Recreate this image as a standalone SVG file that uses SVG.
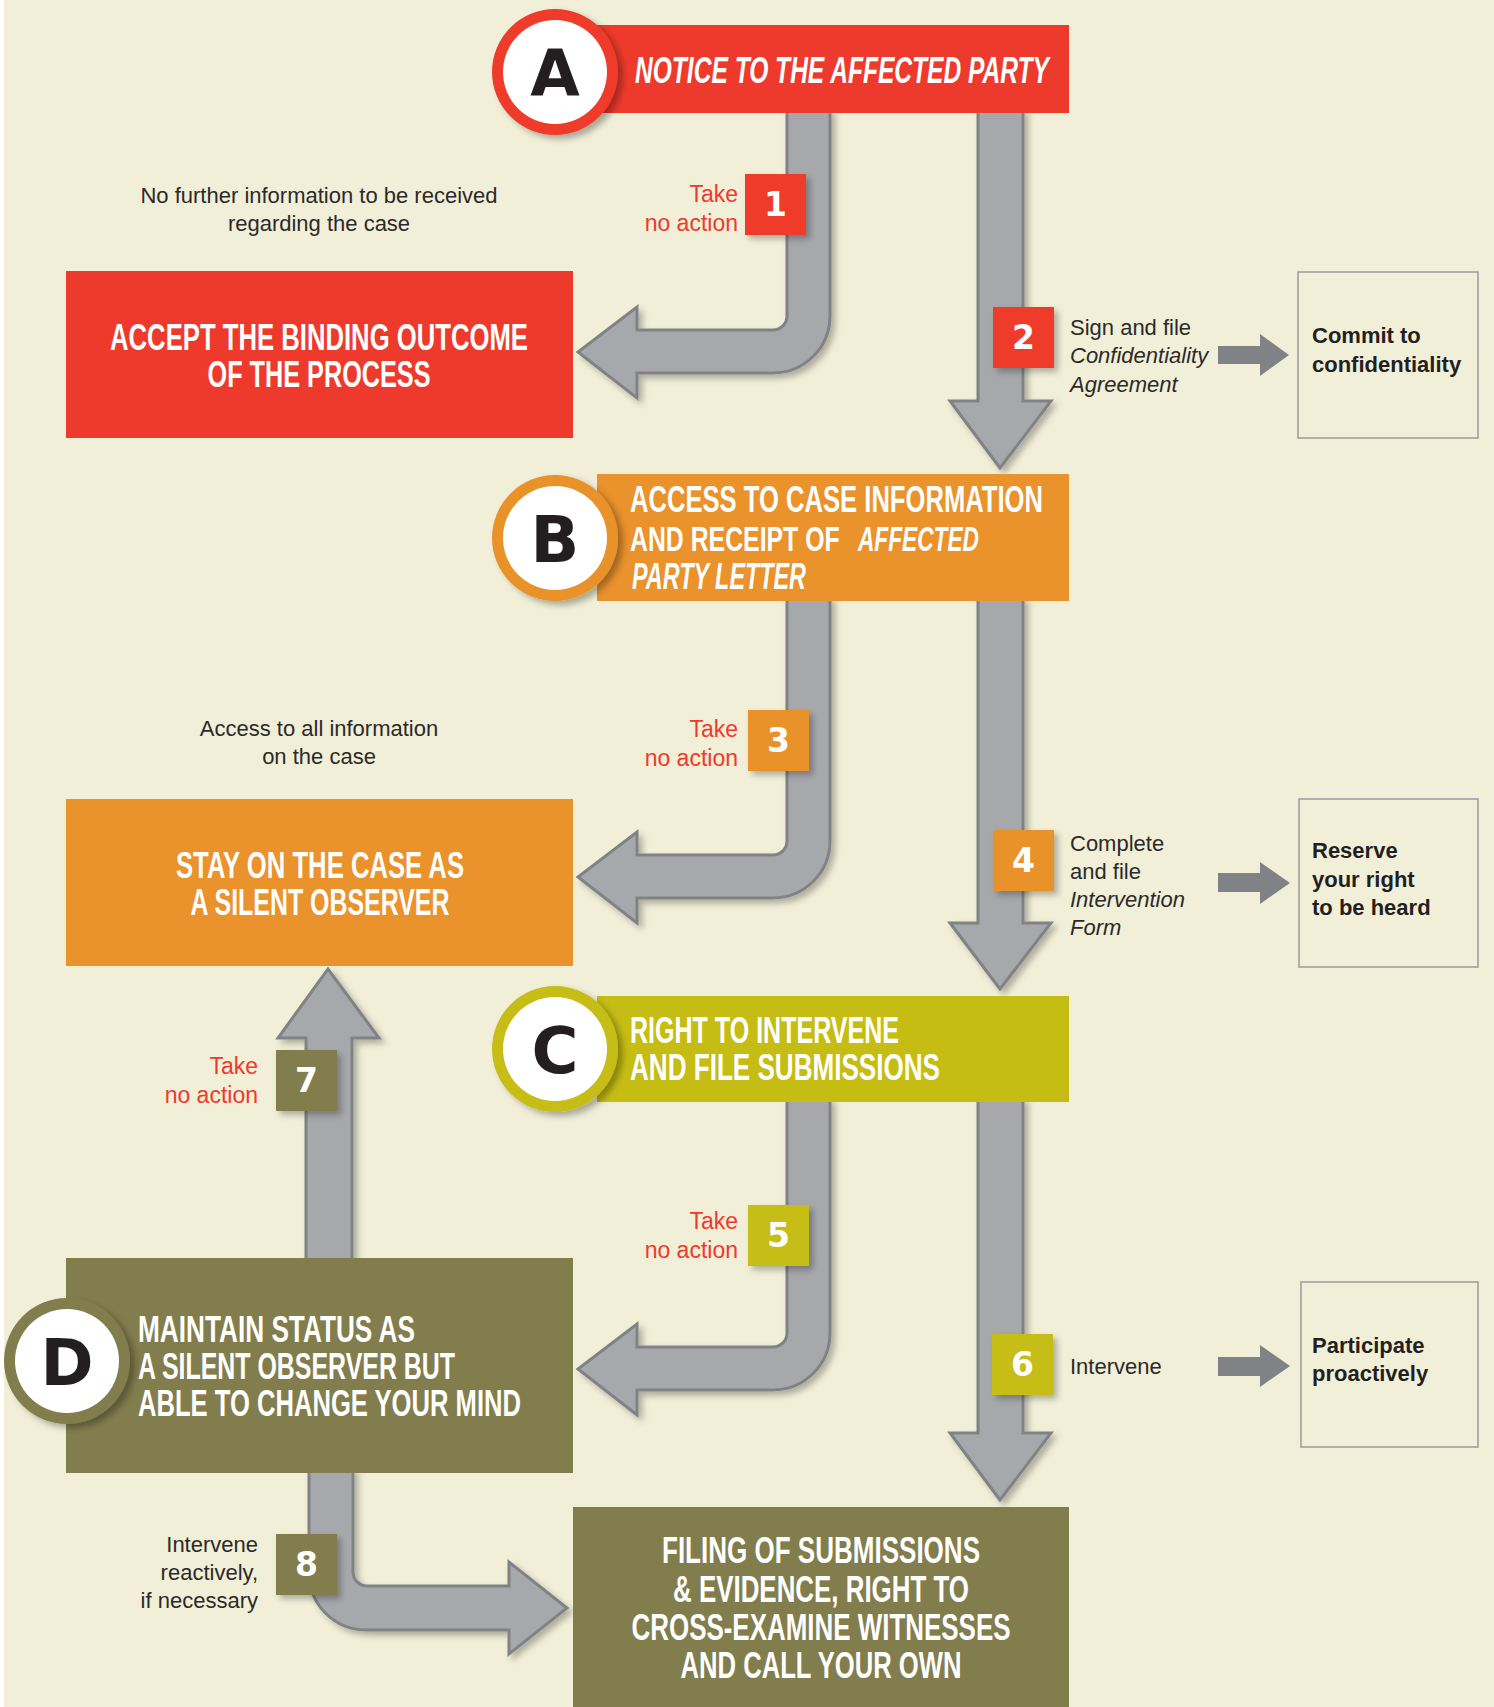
<svg xmlns="http://www.w3.org/2000/svg" width="1494" height="1707" viewBox="0 0 1494 1707">
<defs>
<filter id="sh" x="-20%" y="-20%" width="150%" height="150%"><feDropShadow dx="4" dy="4" stdDeviation="3" flood-color="#000" flood-opacity="0.28"/></filter>
<filter id="shc" x="-20%" y="-20%" width="150%" height="150%"><feDropShadow dx="5" dy="4" stdDeviation="3" flood-color="#000" flood-opacity="0.3"/></filter>
</defs>
<style>
.big{font-family:"Liberation Sans",Arial,sans-serif;font-weight:bold;fill:#fff;font-size:36px}
.it{font-style:italic}
.circ{font-family:"DejaVu Sans","Liberation Sans",sans-serif;font-weight:bold;fill:#231f20;font-size:64px;text-anchor:middle}
.num{font-family:"DejaVu Sans","Liberation Sans",sans-serif;font-weight:bold;fill:#fff;font-size:33px;text-anchor:middle}
.take{font-family:"Liberation Sans",Arial,sans-serif;fill:#ee3a2c;font-size:23px;text-anchor:end}
.note{font-family:"Liberation Sans",Arial,sans-serif;fill:#2b2a29;font-size:22px}
.bold{font-family:"Liberation Sans",Arial,sans-serif;font-weight:bold;fill:#231f20;font-size:22px}
.arr{fill:#a7a8ac;stroke:#818286;stroke-width:3;stroke-linejoin:miter}
.sarr{fill:#808285}
.obox{fill:none;stroke:#9a9a9a;stroke-width:1.5}
</style>
<rect x="0" y="0" width="1494" height="1707" fill="#f1efd8"/>
<rect x="0" y="0" width="4" height="1707" fill="#ffffff"/>

<g id="connectors">
<g filter="url(#sh)">
<path class="arr" d="M787,110 L787,316 A14,14 0 0 1 773,330 L637,330 L637,307 L578,352 L637,398 L637,373 L773,373 A57,57 0 0 0 830,316 L830,110 Z"/>
<path class="arr" d="M978,110 L978,401 L950,401 L1000,468 L1051,401 L1023,401 L1023,110 Z"/>
<path class="arr" d="M787,598 L787,841 A14,14 0 0 1 773,855 L637,855 L637,832 L578,877 L637,923 L637,898 L773,898 A57,57 0 0 0 830,841 L830,598 Z"/>
<path class="arr" d="M978,598 L978,923 L950,923 L1000,989 L1051,923 L1023,923 L1023,598 Z"/>
<path class="arr" d="M787,1099 L787,1333 A14,14 0 0 1 773,1347 L637,1347 L637,1324 L578,1369 L637,1415 L637,1390 L773,1390 A57,57 0 0 0 830,1333 L830,1099 Z"/>
<path class="arr" d="M978,1099 L978,1433 L950,1433 L1000,1500 L1051,1433 L1023,1433 L1023,1099 Z"/>
<path class="arr" d="M306,1262 L306,1038 L278,1038 L328,969 L379,1038 L352,1038 L352,1262 Z"/>
<path class="arr" d="M353,1470 L353,1572 A14,14 0 0 0 367,1586 L509,1586 L509,1562 L567,1608 L509,1654 L509,1630 L366,1630 A57,57 0 0 1 309,1573 L309,1470 Z"/>
</g>
<path class="sarr" d="M1218,346 L1260,346 L1260,334 L1289,355 L1260,376 L1260,364 L1218,364 Z"/>
<path class="sarr" d="M1218,873 L1260,873 L1260,862 L1290,883 L1260,904 L1260,892 L1218,892 Z"/>
<path class="sarr" d="M1218,1357 L1260,1357 L1260,1345 L1290,1366 L1260,1387 L1260,1376 L1218,1376 Z"/>
</g>

<g id="node-A">
<rect x="597" y="25" width="472" height="88" fill="#ee3a2c"/>
<g filter="url(#shc)"><circle cx="555" cy="72" r="63" fill="#ee3a2c"/><circle cx="555" cy="72" r="52" fill="#fff"/></g>
<text class="circ" x="555" y="96">A</text>
<text class="big it" x="635" y="83" textLength="414" lengthAdjust="spacingAndGlyphs">NOTICE TO THE AFFECTED PARTY</text>
</g>

<g id="node-accept">
<rect x="66" y="271" width="507" height="167" fill="#ee3a2c"/>
<text class="big" x="319" y="350" text-anchor="middle" textLength="418" lengthAdjust="spacingAndGlyphs">ACCEPT THE BINDING OUTCOME</text>
<text class="big" x="319" y="387" text-anchor="middle" textLength="223" lengthAdjust="spacingAndGlyphs">OF THE PROCESS</text>
</g>

<g id="node-B">
<rect x="597" y="474" width="472" height="127" fill="#ea922c"/>
<g filter="url(#shc)"><circle cx="555" cy="538" r="63" fill="#ea922c"/><circle cx="555" cy="538" r="52" fill="#fff"/></g>
<text class="circ" x="555" y="562">B</text>
<text class="big" x="630" y="512" textLength="413" lengthAdjust="spacingAndGlyphs">ACCESS TO CASE INFORMATION</text>
<text class="big" transform="translate(630,551) scale(0.69,1)" x="0" y="0">AND RECEIPT OF</text>
<text class="big it" transform="translate(858,551) scale(0.63,1)" x="0" y="0">AFFECTED</text>
<text class="big it" x="632" y="589" textLength="174" lengthAdjust="spacingAndGlyphs">PARTY LETTER</text>
</g>

<g id="node-stay">
<rect x="66" y="799" width="507" height="167" fill="#ea922c"/>
<text class="big" x="320" y="878" text-anchor="middle" textLength="288" lengthAdjust="spacingAndGlyphs">STAY ON THE CASE AS</text>
<text class="big" x="320" y="915" text-anchor="middle" textLength="259" lengthAdjust="spacingAndGlyphs">A SILENT OBSERVER</text>
</g>

<g id="node-C">
<rect x="597" y="996" width="472" height="106" fill="#c6bd14"/>
<g filter="url(#shc)"><circle cx="555" cy="1049" r="63" fill="#c6bd14"/><circle cx="555" cy="1049" r="52" fill="#fff"/></g>
<text class="circ" x="555" y="1073">C</text>
<text class="big" x="630" y="1043" textLength="269" lengthAdjust="spacingAndGlyphs">RIGHT TO INTERVENE</text>
<text class="big" x="630" y="1080" textLength="310" lengthAdjust="spacingAndGlyphs">AND FILE SUBMISSIONS</text>
</g>

<g id="node-D">
<rect x="66" y="1258" width="507" height="215" fill="#827d4d"/>
<g filter="url(#shc)"><circle cx="67" cy="1361" r="63" fill="#827d4d"/><circle cx="67" cy="1361" r="52" fill="#fff"/></g>
<text class="circ" x="67" y="1385">D</text>
<text class="big" x="138" y="1342" textLength="277" lengthAdjust="spacingAndGlyphs">MAINTAIN STATUS AS</text>
<text class="big" x="138" y="1379" textLength="317" lengthAdjust="spacingAndGlyphs">A SILENT OBSERVER BUT</text>
<text class="big" x="138" y="1416" textLength="383" lengthAdjust="spacingAndGlyphs">ABLE TO CHANGE YOUR MIND</text>
</g>

<g id="node-filing">
<rect x="573" y="1507" width="496" height="200" fill="#827d4d"/>
<text class="big" x="821" y="1563" text-anchor="middle" textLength="318" lengthAdjust="spacingAndGlyphs">FILING OF SUBMISSIONS</text>
<text class="big" x="821" y="1602" text-anchor="middle" textLength="296" lengthAdjust="spacingAndGlyphs">&amp; EVIDENCE, RIGHT TO</text>
<text class="big" x="821" y="1640" text-anchor="middle" textLength="379" lengthAdjust="spacingAndGlyphs">CROSS-EXAMINE WITNESSES</text>
<text class="big" x="821" y="1678" text-anchor="middle" textLength="281" lengthAdjust="spacingAndGlyphs">AND CALL YOUR OWN</text>
</g>

<g id="node-commit">
<rect class="obox" x="1298" y="272" width="180" height="166"/>
<text class="bold" x="1312" y="343">Commit to</text>
<text class="bold" x="1312" y="372">confidentiality</text>
</g>
<g id="node-reserve">
<rect class="obox" x="1299" y="799" width="179" height="168"/>
<text class="bold" x="1312" y="858">Reserve</text>
<text class="bold" x="1312" y="887">your right</text>
<text class="bold" x="1312" y="915">to be heard</text>
</g>
<g id="node-participate">
<rect class="obox" x="1301" y="1282" width="177" height="165"/>
<text class="bold" x="1312" y="1353">Participate</text>
<text class="bold" x="1312" y="1381">proactively</text>
</g>

<g id="label-1">
<rect x="745" y="174" width="61" height="61" fill="#ee3a2c" filter="url(#sh)"/>
<text class="num" x="775.5" y="216">1</text>
<text class="take" x="738" y="202">Take</text>
<text class="take" x="738" y="231">no action</text>
</g>
<g id="label-2">
<rect x="993" y="307" width="61" height="61" fill="#ee3a2c" filter="url(#sh)"/>
<text class="num" x="1023.5" y="349">2</text>
<text class="note" x="1070" y="335">Sign and file</text>
<text class="note it" x="1070" y="363">Confidentiality</text>
<text class="note it" x="1070" y="392">Agreement</text>
</g>
<g id="label-3">
<rect x="748" y="710" width="61" height="61" fill="#ea922c" filter="url(#sh)"/>
<text class="num" x="778.5" y="752">3</text>
<text class="take" x="738" y="737">Take</text>
<text class="take" x="738" y="766">no action</text>
</g>
<g id="label-4">
<rect x="993" y="830" width="61" height="61" fill="#ea922c" filter="url(#sh)"/>
<text class="num" x="1023.5" y="872">4</text>
<text class="note" x="1070" y="851">Complete</text>
<text class="note" x="1070" y="879">and file</text>
<text class="note it" x="1070" y="907">Intervention</text>
<text class="note it" x="1070" y="935">Form</text>
</g>
<g id="label-5">
<rect x="748" y="1205" width="61" height="61" fill="#c6bd14" filter="url(#sh)"/>
<text class="num" x="778.5" y="1247">5</text>
<text class="take" x="738" y="1229">Take</text>
<text class="take" x="738" y="1258">no action</text>
</g>
<g id="label-6">
<rect x="992" y="1334" width="61" height="61" fill="#c6bd14" filter="url(#sh)"/>
<text class="num" x="1022.5" y="1376">6</text>
<text class="note" x="1070" y="1374">Intervene</text>
</g>
<g id="label-7">
<rect x="276" y="1050" width="61" height="61" fill="#827d4d" filter="url(#sh)"/>
<text class="num" x="306.5" y="1092">7</text>
<text class="take" x="258" y="1074">Take</text>
<text class="take" x="258" y="1103">no action</text>
</g>
<g id="label-8">
<rect x="276" y="1534" width="61" height="61" fill="#827d4d" filter="url(#sh)"/>
<text class="num" x="306.5" y="1576">8</text>
<text class="note" x="258" y="1552" text-anchor="end">Intervene</text>
<text class="note" x="258" y="1580" text-anchor="end">reactively,</text>
<text class="note" x="258" y="1608" text-anchor="end">if necessary</text>
</g>

<g id="notes">
<text class="note" x="319" y="203" text-anchor="middle">No further information to be received</text>
<text class="note" x="319" y="231" text-anchor="middle">regarding the case</text>
<text class="note" x="319" y="736" text-anchor="middle">Access to all information</text>
<text class="note" x="319" y="764" text-anchor="middle">on the case</text>
</g>
</svg>
